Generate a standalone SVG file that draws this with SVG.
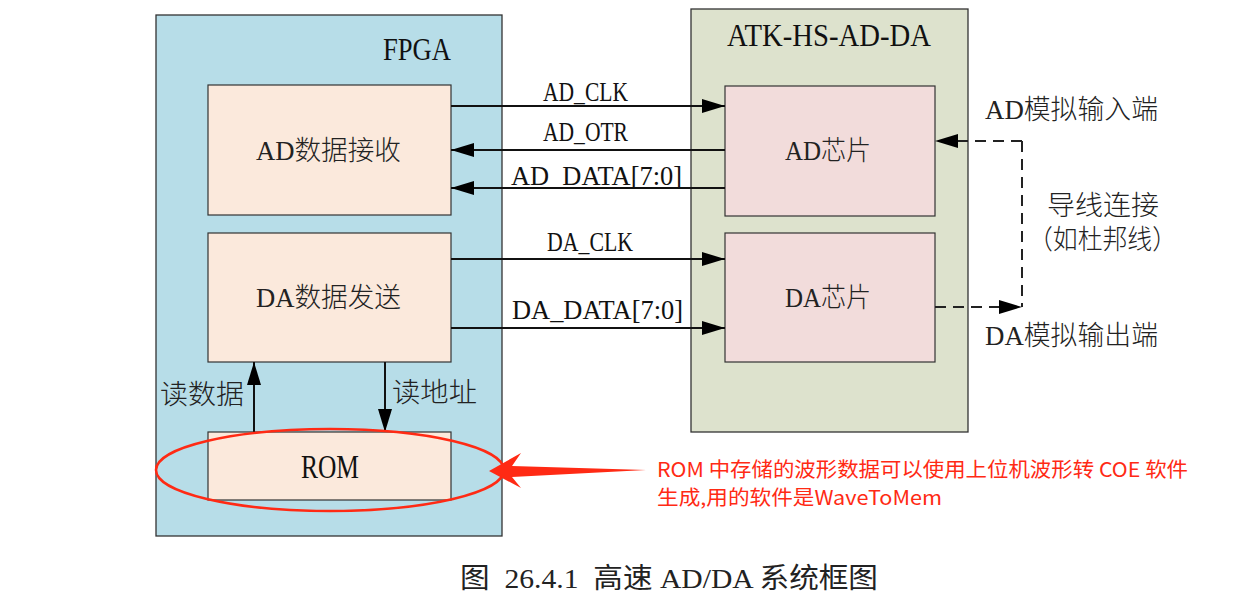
<svg xmlns="http://www.w3.org/2000/svg" width="1238" height="609" viewBox="0 0 1238 609">
<style>
.cont{stroke:#333;stroke-width:1.3}
.box{stroke:#333;stroke-width:1.2}
.fp{fill:#fbe9dc}
.chip{fill:#f2dcdb}
.lat{font-family:"Liberation Serif",serif;fill:#111}
.cjk{font-family:"Liberation Serif","Noto Sans CJK SC",serif;fill:#222;font-weight:300}
.red{font-family:"Noto Sans CJK SC","Liberation Sans",sans-serif;fill:#ff2a14;font-size:20px}
.wire{stroke:#111;stroke-width:2;fill:none}
.dash{stroke:#222;stroke-width:2;fill:none;stroke-dasharray:11 7}
</style>
<defs>
<marker id="ah" markerUnits="userSpaceOnUse" viewBox="0 0 23 14" markerWidth="23" markerHeight="14" refX="23" refY="7" orient="auto">
<path d="M0,0 L23,7 L0,14 z" fill="#000"/>
</marker>
</defs>
<rect width="1238" height="609" fill="#fff"/>
<g id="fpga">
<rect class="cont" x="156" y="15" width="346" height="521" fill="#b7dde8"/>
<text class="lat" x="383" y="60" font-size="32" textLength="68" lengthAdjust="spacingAndGlyphs">FPGA</text>
</g>
<g id="atk">
<rect class="cont" x="691" y="9" width="277" height="423" fill="#dde2cd"/>
<text class="lat" x="727" y="46" font-size="32" textLength="204" lengthAdjust="spacingAndGlyphs">ATK-HS-AD-DA</text>
</g>
<g id="ad_recv">
<rect class="box fp" x="208" y="85" width="243" height="130"/>
<text class="cjk" x="256" y="160" font-size="27" textLength="145" lengthAdjust="spacingAndGlyphs">AD数据接收</text>
</g>
<g id="da_send">
<rect class="box fp" x="208" y="233" width="243" height="129"/>
<text class="cjk" x="256" y="307" font-size="27" textLength="145" lengthAdjust="spacingAndGlyphs">DA数据发送</text>
</g>
<g id="rom">
<rect class="box fp" x="208" y="432" width="243" height="68"/>
<text class="lat" x="301" y="478" font-size="34" textLength="58" lengthAdjust="spacingAndGlyphs">ROM</text>
</g>
<g id="ad_chip">
<rect class="box chip" x="725" y="86" width="210" height="130"/>
<text class="cjk" x="785" y="160" font-size="27" textLength="86" lengthAdjust="spacingAndGlyphs">AD芯片</text>
</g>
<g id="da_chip">
<rect class="box chip" x="725" y="233" width="210" height="129"/>
<text class="cjk" x="785" y="307" font-size="27" textLength="86" lengthAdjust="spacingAndGlyphs">DA芯片</text>
</g>
<g id="connectors">
<line class="wire" x1="451" y1="106" x2="725" y2="106" marker-end="url(#ah)"/>
<line class="wire" x1="725" y1="150" x2="451" y2="150" marker-end="url(#ah)"/>
<line class="wire" x1="725" y1="188" x2="451" y2="188" marker-end="url(#ah)"/>
<line class="wire" x1="451" y1="259" x2="725" y2="259" marker-end="url(#ah)"/>
<line class="wire" x1="451" y1="328" x2="725" y2="328" marker-end="url(#ah)"/>
<line class="wire" x1="254" y1="432" x2="254" y2="362" marker-end="url(#ah)"/>
<line class="wire" x1="385" y1="362" x2="385" y2="432" marker-end="url(#ah)"/>
<path class="dash" d="M1022,141 L1022,307"/>
<line class="dash" x1="1022" y1="141" x2="935" y2="141" marker-end="url(#ah)"/>
<line class="dash" x1="935" y1="307" x2="1022" y2="307" marker-end="url(#ah)"/>
<text class="lat" x="543" y="101" font-size="28" textLength="85" lengthAdjust="spacingAndGlyphs">AD_CLK</text>
<text class="lat" x="543" y="141" font-size="28" textLength="85" lengthAdjust="spacingAndGlyphs">AD_OTR</text>
<text class="lat" x="511" y="185" font-size="28" textLength="171" lengthAdjust="spacingAndGlyphs">AD_DATA[7:0]</text>
<text class="lat" x="547" y="251" font-size="28" textLength="86" lengthAdjust="spacingAndGlyphs">DA_CLK</text>
<text class="lat" x="512" y="319" font-size="28" textLength="171" lengthAdjust="spacingAndGlyphs">DA_DATA[7:0]</text>
<text class="cjk" x="160" y="404" font-size="27" textLength="84" lengthAdjust="spacingAndGlyphs">读数据</text>
<text class="cjk" x="392" y="402" font-size="27" textLength="85" lengthAdjust="spacingAndGlyphs">读地址</text>
<text class="cjk" x="985" y="119" font-size="27" textLength="173" lengthAdjust="spacingAndGlyphs">AD模拟输入端</text>
<text class="cjk" x="1047" y="215" font-size="27" textLength="112" lengthAdjust="spacingAndGlyphs">导线连接</text>
<text class="cjk" x="1028" y="249" font-size="27" textLength="149" lengthAdjust="spacingAndGlyphs">（如杜邦线）</text>
<text class="cjk" x="985" y="345" font-size="27" textLength="173" lengthAdjust="spacingAndGlyphs">DA模拟输出端</text>
</g>
<g id="annotation">
<ellipse cx="330" cy="470" rx="174" ry="41" fill="none" stroke="#ff2a14" stroke-width="2.5"/>
<polygon points="489,471 521,453 512,466 646,470 512,477 521,488" fill="#ff2a14"/>
<text class="red" x="657" y="477" textLength="531" lengthAdjust="spacingAndGlyphs">ROM 中存储的波形数据可以使用上位机波形转 COE 软件</text>
<text class="red" x="657" y="505" textLength="285" lengthAdjust="spacingAndGlyphs">生成,用的软件是WaveToMem</text>
</g>
<text class="cjk" x="460" y="588" font-size="28" textLength="418" lengthAdjust="spacingAndGlyphs" style="font-weight:400;white-space:pre">图  26.4.1  高速 AD/DA 系统框图</text>
</svg>
